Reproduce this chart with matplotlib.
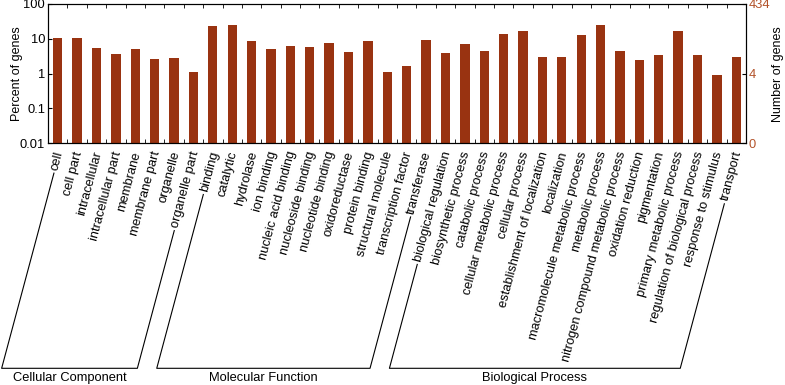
import matplotlib
matplotlib.use('Agg')
import matplotlib.pyplot as plt
import matplotlib.transforms as mtransforms
import numpy as np
from matplotlib.ticker import NullLocator

categories = [
    'cell', 'cell part', 'intracellular', 'intracellular part', 'membrane',
    'membrane part', 'organelle', 'organelle part',
    'binding', 'catalytic', 'hydrolase', 'ion binding', 'nucleic acid binding',
    'nucleoside binding', 'nucleotide binding', 'oxidoreductase', 'protein binding',
    'structural molecule', 'transcription factor', 'transferase',
    'biological regulation', 'biosynthetic process', 'catabolic process',
    'cellular metabolic process', 'cellular process', 'establishment of localization',
    'localization', 'macromolecule metabolic process', 'metabolic process',
    'nitrogen compound metabolic process', 'oxidation reduction', 'pigmentation',
    'primary metabolic process', 'regulation of biological process',
    'response to stimulus', 'transport']
percent = [
    10.3, 10.3, 5.5, 3.7, 5.2, 2.7, 2.9, 1.14,
    23.4, 25.5, 8.5, 5.2, 6.1, 5.8, 7.8, 4.3, 8.9, 1.14, 1.62, 9.0,
    3.9, 7.2, 4.4, 13.8, 16.8, 3.0, 3.0, 13.2, 24.4, 4.6, 2.5, 3.4,
    16.4, 3.4, 0.92, 3.0]
groups = ['Cellular Component', 'Molecular Function', 'Biological Process']
group_sizes = [8, 12, 16]
left_ticks = [0.01, 0.1, 1, 10, 100]
left_labels = ['0.01', '0.1', '1', '10', '100']
right_ticks = [0.01, 1, 100]
right_labels = ['0', '4', '434']

W, H = 785, 385
bar_color = '#993311'
num_color = '#b3532a'
plt.rcParams['font.family'] = ['Liberation Sans', 'DejaVu Sans']
plt.rcParams['font.size'] = 9

fig = plt.figure(figsize=(W / 100, H / 100), dpi=100)
ax = fig.add_axes([48 / W, (H - 143.3) / H, (746 - 48) / W, (143.3 - 4) / H])
ax.set_yscale('log')
x = np.arange(len(categories))
ax.bar(x, percent, width=0.48, color=bar_color, zorder=2)
ax.set_xlim(-0.5, len(categories) - 0.5)
ax.set_ylim(0.01, 100)
ax.set_yticks(left_ticks)
ax.set_yticklabels(left_labels)
ax.yaxis.set_minor_locator(NullLocator())
ax.tick_params(axis='y', direction='in', length=3, pad=2, labelsize=9.3)
ax.set_ylabel('Percent of genes', fontsize=9)
ax.yaxis.set_label_coords((23 - 48) / 698, 0.5)

ax.set_xticks(x)
ax.set_xticklabels(categories, rotation=75, ha='right', va='center',
                   rotation_mode='anchor', fontsize=9.3)
ax.tick_params(axis='x', which='major', length=0, pad=6)
ax.set_xticks(np.arange(-0.5, len(categories), 1), minor=True)
ax.tick_params(axis='x', which='minor', direction='in', length=3, top=True, bottom=True)
shift = mtransforms.ScaledTranslation(2 / 100, 0, fig.dpi_scale_trans)
for lbl in ax.get_xticklabels():
    lbl.set_transform(lbl.get_transform() + shift)

ax2 = ax.twinx()
ax2.set_yscale('log')
ax2.set_ylim(0.01, 100)
ax2.set_yticks(right_ticks)
ax2.set_yticklabels(right_labels, color=num_color)
ax2.yaxis.set_minor_locator(NullLocator())
ax2.tick_params(axis='y', direction='in', length=3, pad=2, labelsize=9.3)
ax2.set_ylabel('Number of genes', fontsize=9)
ax2.yaxis.set_label_coords((772 - 48) / 698, 0.5)

fig.canvas.draw()
renderer = fig.canvas.get_renderer()
labels = ax.get_xticklabels()
theta = np.deg2rad(75)
s, c = np.sin(theta), np.cos(theta)
y_bot = H - 368.3


def start_point(lbl):
    bb = lbl.get_window_extent(renderer)
    w, h = bb.width, bb.height
    L = (h * s - w * c) / (s * s - c * c)
    th = (w - L * c) / s
    px = bb.x0 + th * s / 2
    py = bb.y0 + th * c / 2
    gap = 3
    return px - gap * c, py - gap * s


def bottom_x(pt):
    return pt[0] - (pt[1] - y_bot) / np.tan(theta)


idx = 0
for g, n in zip(groups, group_sizes):
    p1 = start_point(labels[idx])
    p2 = start_point(labels[idx + n - 1])
    b1 = bottom_x(p1)
    b2 = bottom_x(p2)
    xs = [p1[0], b1, b2, p2[0]]
    ys = [p1[1], y_bot, y_bot, p2[1]]
    fig.add_artist(plt.Line2D([v / W for v in xs], [v / H for v in ys],
                              color='black', lw=0.8))
    fig.text((b1 + b2) / 2 / W, 7 / H, g, ha='center', va='center', fontsize=9.3)
    idx += n

fig.savefig('out.png', dpi=100)
